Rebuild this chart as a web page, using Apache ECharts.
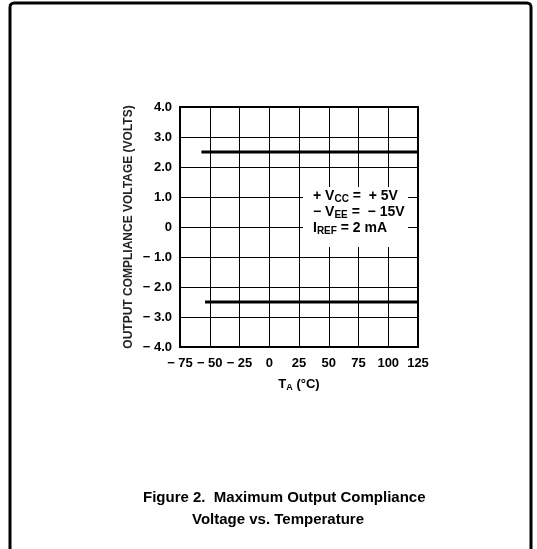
<!DOCTYPE html>
<html>
<head>
<meta charset="utf-8">
<script src="https://cdn.jsdelivr.net/npm/echarts@6/dist/echarts.min.js"></script>
<style>
  html, body { margin: 0; padding: 0; background: #fff; }
</style>
</head>
<body>
<div id="myChart" style="width: 537px; height: 549px;"></div>
<script>
  // temperature (°C) and output compliance voltage (V)
  var upperTemp = [-57, 125];
  var upperVolt = [2.5, 2.5];
  var lowerTemp = [-54, 125];
  var lowerVolt = [-2.5, -2.5];

  var xTicks = [-75, -50, -25, 0, 25, 50, 75, 100, 125];
  var yTicks = [-4, -3, -2, -1, 0, 1, 2, 3, 4];

  function pairs(xs, ys) {
    var out = [];
    for (var i = 0; i < xs.length; i++) out.push([xs[i], ys[i]]);
    return out;
  }

  var font = 'Liberation Sans, Arial, Helvetica, sans-serif';
  var lineStyle = { color: '#000', width: 3 };

  var myChart = echarts.init(document.getElementById('myChart'));
  myChart.setOption({
    backgroundColor: '#fff',
    animation: false,
    grid: {
      left: 180,
      right: 119,
      top: 107,
      bottom: 202,
      show: true,
      borderColor: '#000',
      borderWidth: 2
    },
    xAxis: {
      type: 'value',
      min: xTicks[0],
      max: xTicks[xTicks.length - 1],
      interval: 25,
      name: 'T{sub|A} (°C)',
      nameLocation: 'middle',
      nameGap: 30,
      nameTextStyle: {
        color: '#000',
        fontFamily: font,
        fontWeight: 'bold',
        fontSize: 13,
        rich: {
          sub: { fontSize: 9, fontWeight: 'bold', fontFamily: font, color: '#000', verticalAlign: 'bottom', padding: [6, 0, 0, 0] }
        }
      },
      axisLine: { onZero: false, lineStyle: { color: '#000', width: 2 } },
      axisTick: { show: false },
      axisLabel: {
        color: '#000',
        fontFamily: font,
        fontWeight: 'bold',
        fontSize: 13,
        margin: 10,
        formatter: function (v) {
          return v < 0 ? '\u2212 ' + Math.abs(v) : String(v);
        }
      },
      splitLine: { show: true, lineStyle: { color: '#000', width: 1 } }
    },
    yAxis: {
      type: 'value',
      min: yTicks[0],
      max: yTicks[yTicks.length - 1],
      interval: 1,
      name: 'OUTPUT COMPLIANCE VOLTAGE (VOLTS)',
      nameLocation: 'middle',
      nameGap: 45,
      nameTextStyle: {
        color: '#222',
        fontFamily: font,
        fontWeight: 'bold',
        fontSize: 12
      },
      axisLine: { onZero: false, lineStyle: { color: '#000', width: 2 } },
      axisTick: { show: false },
      axisLabel: {
        color: '#000',
        fontFamily: font,
        fontWeight: 'bold',
        fontSize: 13,
        margin: 8,
        formatter: function (v) {
          if (v === 0) return '0';
          return v < 0 ? '\u2212 ' + Math.abs(v).toFixed(1) : v.toFixed(1);
        }
      },
      splitLine: { show: true, lineStyle: { color: '#000', width: 1 } }
    },
    series: [
      {
        name: 'upper',
        type: 'line',
        symbol: 'none',
        lineStyle: lineStyle,
        data: pairs(upperTemp, upperVolt),
        z: 3
      },
      {
        name: 'lower',
        type: 'line',
        symbol: 'none',
        lineStyle: lineStyle,
        data: pairs(lowerTemp, lowerVolt),
        z: 3
      }
    ],
    graphic: [
      {
        // page frame
        type: 'rect',
        shape: { x: 10, y: 3, width: 521, height: 600, r: [4, 4, 0, 0] },
        style: { fill: 'none', stroke: '#000', lineWidth: 3 },
        z: 10
      },
      {
        // condition box
        type: 'rect',
        shape: { x: 303, y: 187, width: 105, height: 60 },
        style: { fill: '#fff' },
        z: 20
      },
      {
        type: 'text',
        left: 313,
        top: 188,
        z: 21,
        style: {
          text: '+ V{sub|CC} =  + 5V\n\u2212 V{sub|EE} =  \u2212 15V\nI{sub|REF} = 2 mA',
          font: 'bold 14px ' + font,
          fill: '#000',
          lineHeight: 16,
          rich: {
            sub: { fontSize: 10, fontWeight: 'bold', fontFamily: font, fill: '#000', verticalAlign: 'bottom', padding: [5, 0, 0, 0] }
          }
        }
      },
      {
        type: 'text',
        left: 143,
        top: 490,
        z: 21,
        style: {
          text: 'Figure 2.  Maximum Output Compliance',
          font: 'bold 15px ' + font,
          fill: '#000'
        }
      },
      {
        type: 'text',
        left: 192,
        top: 512,
        z: 21,
        style: {
          text: 'Voltage vs. Temperature',
          font: 'bold 15px ' + font,
          fill: '#000'
        }
      }
    ]
  });
</script>
</body>
</html>
